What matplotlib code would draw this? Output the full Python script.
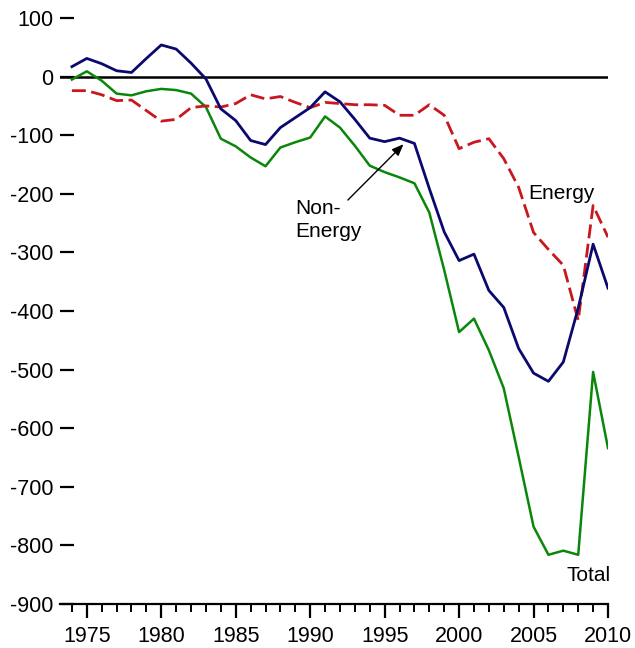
import numpy as np
import matplotlib
matplotlib.use("Agg")
import matplotlib.pyplot as plt
from matplotlib.ticker import MultipleLocator

plt.rcParams['font.family'] = ['Liberation Sans', 'DejaVu Sans']
plt.rcParams['axes.unicode_minus'] = False

# ---------------- DATA ----------------
years = list(range(1974, 2011))

non_energy = [17, 31, 22, 10, 7, 31, 54, 47, 23, -4,
              -55, -75, -109, -116, -87, -70, -53, -26, -43, -73,
              -105, -111, -105, -114, -191, -265, -314, -303, -365, -394,
              -464, -506, -520, -487, -395, -286, -361]

energy = [-24, -24, -31, -41, -40, -58, -76, -73, -53, -50,
          -52, -46, -31, -38, -34, -44, -53, -44, -46, -48,
          -48, -49, -66, -66, -48, -66, -123, -112, -106, -140,
          -189, -266, -295, -322, -416, -220, -274]

total = [-5, 9, -7, -29, -32, -25, -21, -23, -29, -52,
         -106, -119, -138, -153, -121, -112, -104, -68, -87, -118,
         -152, -163, -172, -182, -232, -330, -436, -413, -467, -532,
         -649, -768, -816, -809, -816, -504, -634]

# ---------------- PLOT ----------------
fig = plt.figure(figsize=(6.35, 6.48), dpi=100)
ax = fig.add_axes([60 / 635, 1 - 604 / 648, 548 / 635, 586 / 648])

ax.axhline(0, color='black', lw=1.8, zorder=1)
ax.plot(years, total, color='#0a870a', lw=1.8, zorder=2)
ax.plot(years, energy, color='#c8171e', lw=2.0, dashes=(5, 2), zorder=3)
ax.plot(years, non_energy, color='#0a0a6e', lw=2.0, zorder=4)

ax.set_xlim(1973.2, 2010)
ax.set_ylim(-900, 100)

ax.xaxis.set_major_locator(MultipleLocator(5))
ax.xaxis.set_minor_locator(MultipleLocator(1))
ax.yaxis.set_major_locator(MultipleLocator(100))

for s in ['top', 'right', 'left']:
    ax.spines[s].set_visible(False)
ax.spines['bottom'].set_linewidth(1.6)

ax.tick_params(axis='x', which='major', direction='out', length=10, width=1.6,
               labelsize=15.5, pad=6)
ax.tick_params(axis='x', which='minor', direction='out', length=6, width=1.4)
ax.tick_params(axis='y', which='major', direction='in', length=10, width=1.6,
               labelsize=15.5, pad=5)

# ---------------- LABELS ----------------
ax.text(1989.0, -245, "Non-\nEnergy", fontsize=15, ha='left', va='center',
        linespacing=1.3)
ax.annotate("", xy=(1996.4, -112), xytext=(1992.4, -214),
            arrowprops=dict(arrowstyle='-|>,head_length=0.7,head_width=0.28',
                            color='black', lw=1.0))
ax.text(2006.9, -200, "Energy", fontsize=15, ha='center', va='center')
ax.text(2008.7, -852, "Total", fontsize=15, ha='center', va='center')

plt.savefig("out.png", dpi=100)
